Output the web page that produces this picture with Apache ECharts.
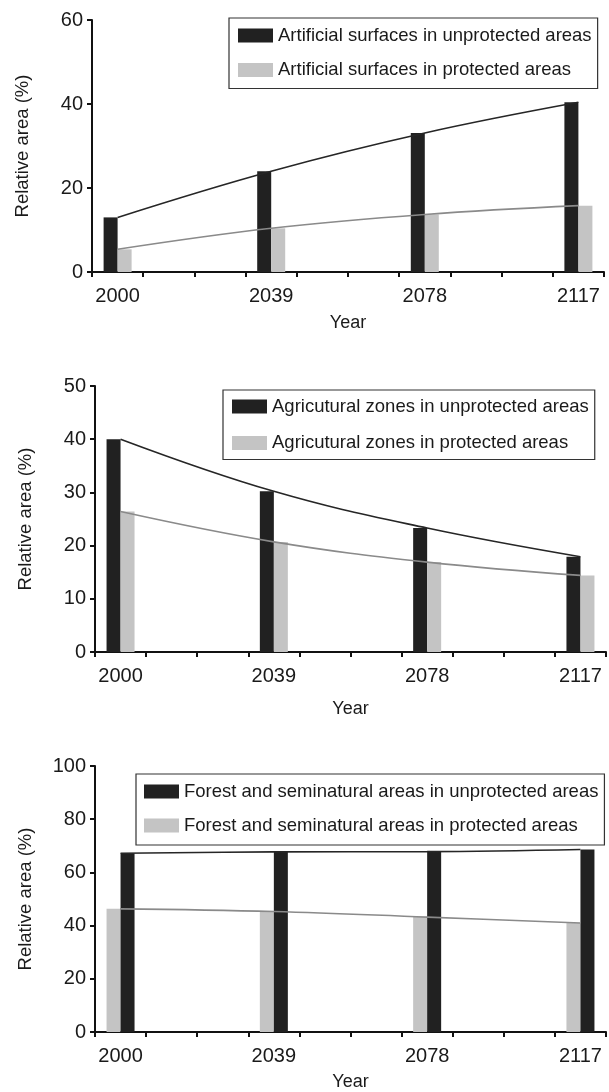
<!DOCTYPE html>
<html>
<head>
<meta charset="utf-8">
<script src="https://cdn.jsdelivr.net/npm/echarts@6/dist/echarts.min.js"></script>
<style>
  html, body { margin: 0; background: #fff; }
  #chart { width: 609px; height: 1092px; }
</style>
</head>
<body>
<div id="chart"></div>
<script>
// labelled years on the x axis; each step is split into 3 slots
const years = ["2000", "2039", "2078", "2117"];
const slotsPerStep = 3;

// relative area (%)
const artUnprot = [13, 24, 33.1, 40.4];
const artProt = [5.4, 10.4, 13.7, 15.8];
const agrUnprot = [40, 30.2, 23.3, 17.9];
const agrProt = [26.4, 20.7, 16.9, 14.4];
const forUnprot = [67.2, 67.7, 67.8, 68.6];
const forProt = [46.3, 45.3, 43.2, 41];

const yMax = [60, 50, 100];
const yStep = [20, 10, 20];

const names = [
  ["Artificial surfaces in unprotected areas", "Artificial surfaces in protected areas"],
  ["Agricutural zones in unprotected areas", "Agricutural zones in protected areas"],
  ["Forest and seminatural areas in unprotected areas", "Forest and seminatural areas in protected areas"]
];

const DARK = "#212121";
const LIGHT = "#c4c4c4";
const TEXT = "#1a1a1a";
const FONT = "Liberation Sans";

// category slots: the year, then unlabelled slots up to the next year
const slots = [];
years.forEach((y, i) => {
  slots.push(y);
  if (i < years.length - 1) {
    for (let k = 1; k < slotsPerStep; k++) slots.push(y + "+" + k);
  }
});
const spread = vals => slots.map((s, i) => (i % slotsPerStep === 0 ? vals[i / slotsPerStep] : "-"));

const grids = [
  { left: 92, right: 5, top: 20, height: 252 },
  { left: 95, right: 3, top: 386, height: 266 },
  { left: 95, right: 3, top: 766, height: 268 }
];
const yearGap = [42, 48, 41];
const legendPos = [
  { left: 229, top: 18, itemGap: 15.5, padding: [8, 6, 9, 9] },
  { left: 223, top: 390, itemGap: 17.5, padding: [7, 6, 7, 9] },
  { left: 136, top: 774, itemGap: 15, padding: [8, 6, 10, 8] }
];

const tickStyle = { color: "#111", width: 2 };

const xAxis = grids.map((g, i) => ({
  type: "category",
  gridIndex: i,
  data: slots,
  boundaryGap: true,
  name: "Year",
  nameLocation: "middle",
  nameGap: yearGap[i],
  nameTextStyle: { fontFamily: FONT, fontSize: 18, color: TEXT },
  axisLine: { show: true, lineStyle: tickStyle },
  axisTick: { show: true, interval: 0, length: 5, lineStyle: tickStyle },
  axisLabel: {
    interval: idx => idx % slotsPerStep === 0,
    margin: 14,
    fontFamily: FONT,
    fontSize: 20,
    color: TEXT
  },
  splitLine: { show: false }
}));

const yAxis = grids.map((g, i) => ({
  type: "value",
  gridIndex: i,
  min: 0,
  max: yMax[i],
  interval: yStep[i],
  name: "Relative area (%)",
  nameLocation: "middle",
  nameGap: 60,
  nameTextStyle: { fontFamily: FONT, fontSize: 18.5, color: TEXT },
  axisLine: { show: true, lineStyle: tickStyle },
  axisTick: { show: true, length: 5, lineStyle: tickStyle },
  axisLabel: { margin: 9, fontFamily: FONT, fontSize: 20, color: TEXT },
  splitLine: { show: false }
}));

const legend = legendPos.map((p, i) => ({
  left: p.left,
  top: p.top,
  orient: "vertical",
  data: names[i],
  icon: "rect",
  itemWidth: 35,
  itemHeight: 14,
  itemGap: p.itemGap,
  itemTextGap: 7,
  padding: p.padding,
  borderColor: "#333",
  borderWidth: 1.2,
  selectedMode: false,
  textStyle: { fontFamily: FONT, fontSize: 18.5, color: TEXT }
}));

const bar = (name, data, color, i) => ({
  name,
  type: "bar",
  xAxisIndex: i,
  yAxisIndex: i,
  data: spread(data),
  barWidth: 14,
  barGap: "0%",
  itemStyle: { color },
  silent: true
});
const trend = (data, color, i) => ({
  type: "line",
  xAxisIndex: i,
  yAxisIndex: i,
  data: spread(data),
  connectNulls: true,
  smooth: 0.4,
  symbol: "none",
  lineStyle: { color, width: 1.6 },
  silent: true,
  z: 5
});

const series = [
  bar(names[0][0], artUnprot, DARK, 0),
  bar(names[0][1], artProt, LIGHT, 0),
  trend(artUnprot, "#262626", 0),
  trend(artProt, "#8a8a8a", 0),

  bar(names[1][0], agrUnprot, DARK, 1),
  bar(names[1][1], agrProt, LIGHT, 1),
  trend(agrUnprot, "#262626", 1),
  trend(agrProt, "#8a8a8a", 1),

  // in the forest panel the protected bar comes first
  bar(names[2][1], forProt, LIGHT, 2),
  bar(names[2][0], forUnprot, DARK, 2),
  trend(forUnprot, "#262626", 2),
  trend(forProt, "#8a8a8a", 2)
];

const chart = echarts.init(document.getElementById("chart"));
chart.setOption({
  animation: false,
  backgroundColor: "#fff",
  grid: grids,
  xAxis,
  yAxis,
  legend,
  series
});
</script>
</body>
</html>
